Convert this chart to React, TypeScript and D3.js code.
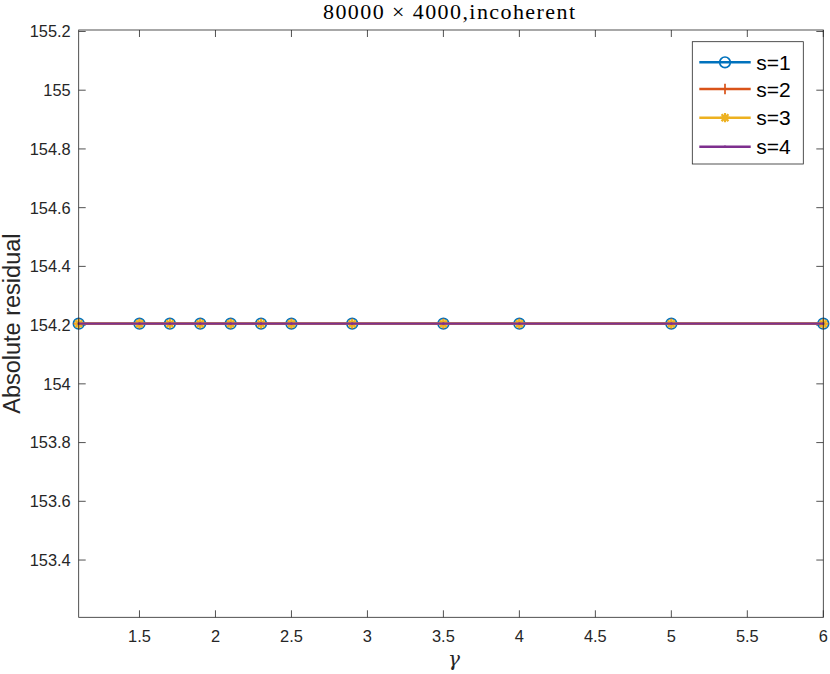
import { useEffect, useRef } from "react";
import * as d3 from "d3";

// gamma values on the x axis
const gammas = [1.1, 1.5, 1.7, 1.9, 2.1, 2.3, 2.5, 2.9, 3.5, 4, 5, 6];

// absolute residual for each s (all flat at the same level)
const residualS1 = [154.205, 154.205, 154.205, 154.205, 154.205, 154.205, 154.205, 154.205, 154.205, 154.205, 154.205, 154.205];
const residualS2 = [154.205, 154.205, 154.205, 154.205, 154.205, 154.205, 154.205, 154.205, 154.205, 154.205, 154.205, 154.205];
const residualS3 = [154.205, 154.205, 154.205, 154.205, 154.205, 154.205, 154.205, 154.205, 154.205, 154.205, 154.205, 154.205];
const residualS4 = [154.205, 154.205, 154.205, 154.205, 154.205, 154.205, 154.205, 154.205, 154.205, 154.205, 154.205, 154.205];

const seriesNames = ["s=1", "s=2", "s=3", "s=4"];
const seriesMarkers = ["circle", "plus", "asterisk", "point"];

const xTicks = [1.5, 2, 2.5, 3, 3.5, 4, 4.5, 5, 5.5, 6];
const yTicks = [153.4, 153.6, 153.8, 154, 154.2, 154.4, 154.6, 154.8, 155, 155.2];

const colors = ["#0072BD", "#D95319", "#EDB120", "#7E2F8E"];

function drawMarker(g, type, x, y, color) {
  if (type === "circle") {
    g.append("circle").attr("cx", x).attr("cy", y).attr("r", 5.3)
      .attr("fill", "none").attr("stroke", color).attr("stroke-width", 1.7);
  } else if (type === "plus" || type === "asterisk") {
    const s = type === "asterisk" ? 4.6 : 5.2;
    const p = `M${x - s},${y}H${x + s}M${x},${y - s}V${y + s}`;
    const d = s * 0.75;
    const xx = type === "asterisk" ? `M${x - d},${y - d}L${x + d},${y + d}M${x - d},${y + d}L${x + d},${y - d}` : "";
    g.append("path").attr("d", p + xx).attr("fill", "none")
      .attr("stroke", color).attr("stroke-width", type === "asterisk" ? 2.2 : 1.7);
  } else {
    g.append("circle").attr("cx", x).attr("cy", y).attr("r", 1.3).attr("fill", color);
  }
}

export default function App() {
  const svgRef = useRef(null);
  const width = 830;
  const height = 674;

  useEffect(() => {
    const svg = d3.select(svgRef.current);
    svg.selectAll("*").remove();

    const margin = { top: 30, right: 6.7, bottom: 56.7, left: 78.7 };
    const innerWidth = width - margin.left - margin.right;
    const innerHeight = height - margin.top - margin.bottom;
    const axisColor = "#262626";

    const x = d3.scaleLinear().domain([1.1, 6]).range([0, innerWidth]);
    const y = d3.scaleLinear().domain([153.205, 155.205]).range([innerHeight, 0]);

    const g = svg.append("g").attr("transform", `translate(${margin.left},${margin.top})`);

    g.append("rect").attr("width", innerWidth).attr("height", innerHeight).attr("fill", "#fff");

    // ticks on all four sides, pointing inward
    const tickLen = 7;
    xTicks.forEach(t => {
      g.append("line").attr("x1", x(t)).attr("x2", x(t)).attr("y1", innerHeight).attr("y2", innerHeight - tickLen)
        .attr("stroke", axisColor).attr("stroke-width", 0.8);
      g.append("line").attr("x1", x(t)).attr("x2", x(t)).attr("y1", 0).attr("y2", tickLen)
        .attr("stroke", axisColor).attr("stroke-width", 0.8);
      g.append("text").attr("x", x(t)).attr("y", innerHeight + 25).attr("text-anchor", "middle")
        .attr("font-family", "Liberation Sans, Arial, sans-serif").attr("font-size", 16.4)
        .attr("fill", axisColor).text(d3.format("")(t));
    });
    yTicks.forEach(t => {
      g.append("line").attr("x1", 0).attr("x2", tickLen).attr("y1", y(t)).attr("y2", y(t))
        .attr("stroke", axisColor).attr("stroke-width", 0.8);
      g.append("line").attr("x1", innerWidth).attr("x2", innerWidth - tickLen).attr("y1", y(t)).attr("y2", y(t))
        .attr("stroke", axisColor).attr("stroke-width", 0.8);
      g.append("text").attr("x", -8).attr("y", y(t)).attr("dy", "0.36em").attr("text-anchor", "end")
        .attr("font-family", "Liberation Sans, Arial, sans-serif").attr("font-size", 16.4)
        .attr("fill", axisColor).text(t.toFixed(t % 1 === 0 ? 0 : 1));
    });

    const allSeries = [residualS1, residualS2, residualS3, residualS4];
    const line = d3.line().x(d => x(d[0])).y(d => y(d[1]));

    allSeries.forEach((vals, i) => {
      const pts = gammas.map((gm, j) => [gm, vals[j]]);
      g.append("path").attr("d", line(pts)).attr("fill", "none")
        .attr("stroke", colors[i]).attr("stroke-width", 2.4);
      pts.forEach(p => drawMarker(g, seriesMarkers[i], x(p[0]), y(p[1]), colors[i]));
    });

    // box
    g.append("rect").attr("width", innerWidth).attr("height", innerHeight)
      .attr("fill", "none").attr("stroke", axisColor).attr("stroke-width", 0.8);

    // legend
    const lg = svg.append("g").attr("transform", "translate(692.3,41.7)");
    lg.append("rect").attr("width", 111).attr("height", 122.3)
      .attr("fill", "#fff").attr("stroke", axisColor).attr("stroke-width", 0.8);
    const rowY = [20.6, 47.3, 76, 105];
    seriesNames.forEach((name, i) => {
      lg.append("line").attr("x1", 7).attr("x2", 58.4).attr("y1", rowY[i]).attr("y2", rowY[i])
        .attr("stroke", colors[i]).attr("stroke-width", 2.4);
      drawMarker(lg, seriesMarkers[i], 32.7, rowY[i], colors[i]);
      lg.append("text").attr("x", 64).attr("y", rowY[i]).attr("dy", "0.36em")
        .attr("font-family", "Liberation Sans, Arial, sans-serif").attr("font-size", 21)
        .attr("fill", "#000").text(name);
    });

    // title
    svg.append("text").attr("x", 449).attr("y", 19).attr("text-anchor", "middle")
      .attr("font-family", "Liberation Serif, serif").attr("font-size", 22)
      .attr("textLength", 252).attr("lengthAdjust", "spacing").attr("fill", "#000")
      .text("80000 \u00d7 4000,incoherent");

    // axis labels
    svg.append("text").attr("x", margin.left + innerWidth / 2 + 3).attr("y", 666).attr("text-anchor", "middle")
      .attr("font-family", "DejaVu Serif, serif").attr("font-style", "italic").attr("font-size", 20)
      .attr("fill", axisColor).text("\u03b3");
    svg.append("text").attr("transform", `translate(19.5,${margin.top + innerHeight / 2}) rotate(-90)`)
      .attr("text-anchor", "middle")
      .attr("font-family", "Liberation Sans, Arial, sans-serif").attr("font-size", 23.5)
      .attr("fill", axisColor).text("Absolute residual");
  }, []);

  return (
    <svg ref={svgRef} width={width} height={height}
      style={{ position: "absolute", left: 0, top: 0, background: "#fff" }} />
  );
}
